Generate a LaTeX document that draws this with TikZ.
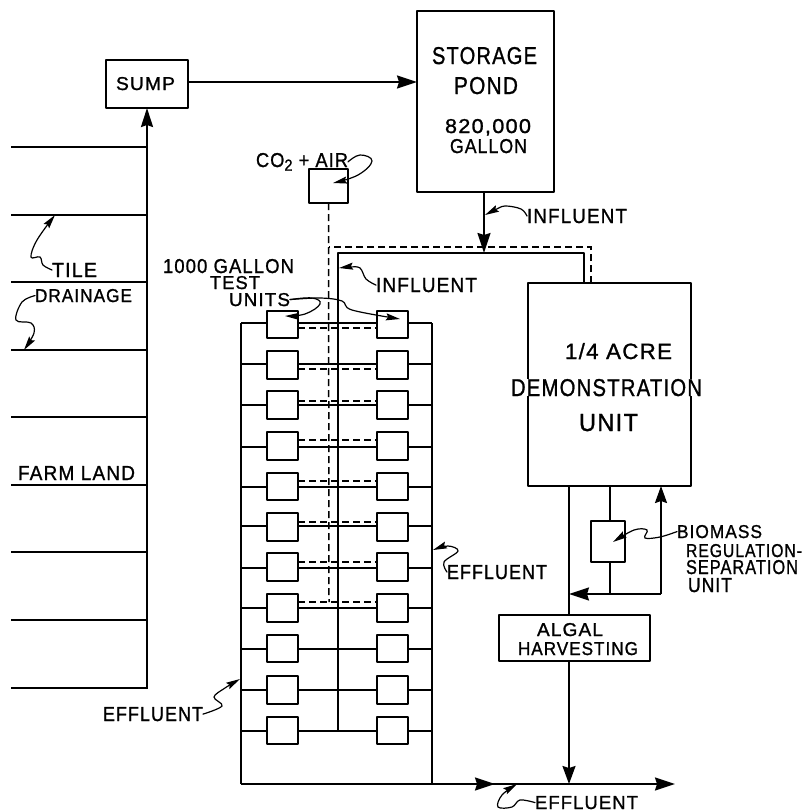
\documentclass[tikz,border=0pt]{standalone}
\usepackage{fontspec}
\usepackage{graphicx}
\setmainfont[LetterSpace=6,FakeBold=1.2]{Liberation Sans}
\usetikzlibrary{arrows.meta,calc}
\tikzset{
  ln/.style={line width=1.9pt,line join=round},
  thinln/.style={line width=1.5pt},
  dsh/.style={line width=1.5pt,dash pattern=on 7pt off 4pt},
  arr/.style={ln,-{Stealth[length=20pt,width=13pt,inset=2pt]}},
  leader/.style={line width=1.2pt,line cap=round,-{Stealth[length=14pt,width=7pt,inset=2pt]}},
  boxn/.style={draw,ln,inner sep=0pt,outer sep=0pt},
  lab/.style={inner sep=0pt,outer sep=0pt,anchor=base west}
}
% box by corners
\newcommand\bx[5]{%
  \pgfmathsetmacro\myw{#4-#2}\pgfmathsetmacro\myh{#5-#3}%
  \pgfmathsetmacro\mymx{(#2+#4)/2}\pgfmathsetmacro\mymy{(#3+#5)/2}%
  \node[boxn,minimum width=\myw pt,minimum height=\myh pt] (#1) at (\mymx,\mymy) {};}
% text fitted to x1,x2, cap top, baseline
\newcommand\tx[7][]{%
  \pgfmathsetmacro\myw{#4-#3}\pgfmathsetmacro\myh{#6-#5}%
  \node[lab,#1] (#2) at (#3,#6) {\resizebox{\myw pt}{\myh pt}{#7}};}
\begin{document}
\begin{tikzpicture}[x=1pt,y=-1pt]
\useasboundingbox (0,0) rectangle (809,811);
% tile lines and trunk
\foreach \y in {147,215,282,350,417,485,552,620,688}
  \draw[thinln] (11,\y) -- (147,\y);
% boxes
\bx{sump}{106}{60}{188}{108}
\bx{pond}{417}{11}{554}{192}
\bx{co}{309}{169}{348}{203}
\bx{demo}{528}{283}{691}{486}
\bx{bio}{591}{521}{625}{562}
\bx{alg}{499}{615}{650}{661}
\coordinate (trunk) at (147,689);
\draw[ln,line width=2.2pt,-{Stealth[length=19pt,width=12pt,inset=2pt]}] (trunk) -- (sump.south);
\draw[arr] ([yshift=2pt]sump.east) -- ([yshift=2pt]sump.east -| pond.west);
% influent network
\coordinate (sc) at (338,253);
\coordinate (sr) at (584,253);
\coordinate (dc) at (329,247);
\coordinate (dr) at (591,247);
\coordinate (send) at (338,731);
\coordinate (dend) at (329,602);
\draw[ln,line width=2.1pt] (send) -- (sc) -- (sr) -- (sr |- demo.north);
\draw[dsh] (dr |- demo.north) -- (dr) -- (dc);
\draw[dsh] (co.south) -- (dend);
\draw[arr,line width=2.1pt] (pond.south -| 484,0) -- (484,253);
% test units
\coordinate (tl) at (241,323);
\coordinate (tr) at (432,323);
\coordinate (bl) at (241,784);
\coordinate (br) at (432,784);
\coordinate (mida) at (495,784);
\coordinate (midb) at (480,784);
\coordinate (enda) at (675,784);
\foreach \i/\t/\b/\s in {1/311/338/323,2/351/379/364,3/391/419/405,4/432/460/447,5/473/500/487,6/513/541/526,7/553/581/568,8/594/622/608,9/635/662/649,10/676/704/690,11/717/744/731}{
  \bx{L\i}{267}{\t}{298}{\b}
  \bx{R\i}{377}{\t}{408}{\b}
  \draw[thinln] (L\i.west |- 0,\s) -- (241,\s);
  \draw[thinln] (R\i.east |- 0,\s) -- (432,\s);
  \draw[ln] (L\i.east |- 0,\s) -- (R\i.west |- 0,\s);
}
\foreach \i/\d in {1/328,2/369,3/401,4/440,5/481,6/522,7/562,8/602}
  \draw[dsh] (L\i.east |- 0,\d) -- (R\i.west |- 0,\d);
\draw[ln] (tl) -- (bl);
\draw[ln] (tr) -- (br);
\draw[arr] (bl) -- (mida);
\draw[arr] (midb) -- (enda);
% demonstration unit outlets
\coordinate (jn) at (569,594);
\coordinate (jr) at (661,594);
\draw[ln] (jn |- demo.south) -- (jn |- alg.north);
\draw[ln] (bio.north -| 610,0) -- (610,486);
\draw[ln] (bio.south -| 610,0) -- (610,594);
\draw[arr] (jr) -- (jn);
\draw[ln,-{Stealth[length=17pt,width=12pt,inset=2pt]}] (jr) -- (jr |- demo.south);
\draw[ln,-{Stealth[length=18pt,width=13pt,inset=2pt]}] (569,661) -- (569,784);
% labels
\tx{lsump}{116}{175}{77}{90}{SUMP}
\tx{lst}{432}{537}{47}{64}{STORAGE}
\tx{lpo}{454}{518}{77}{94}{POND}
\tx{l82}{445}{531}{119}{133}{820,000}
\tx{lga}{450}{527}{139}{153}{GALLON}
\tx{lco}{256}{348}{153}{167}{CO\raisebox{-.35ex}{\footnotesize 2} + AIR}
\tx{linf}{527}{627}{209}{223}{INFLUENT}
\tx{linfb}{376}{477}{278}{292}{INFLUENT}
\tx{lgal}{163}{294}{259}{273}{1000 GALLON}
\tx{lte}{210}{260}{276}{289}{TEST}
\tx{lun}{229}{290}{293}{306}{UNITS}
\tx{lti}{52}{97}{263}{277}{TILE}
\tx{ldr}{35}{132}{289}{302}{DRAINAGE}
\tx{lfa}{18}{135}{466}{480}{FARM LAND}
\tx{lac}{565}{672}{343}{359}{1/4 ACRE}
\tx[fill=white]{lde}{511}{702}{379}{396}{DEMONSTRATION}
\tx{luu}{579}{638}{414}{431}{UNIT}
\tx{lbi}{677}{762}{525}{538}{BIOMASS}
\tx{lre}{686}{802}{544}{557}{REGULATION-}
\tx{lse}{686}{798}{560}{574}{SEPARATION}
\tx{lu2}{688}{732}{578}{592}{UNIT}
\tx{leff}{447}{547}{565}{579}{EFFLUENT}
\tx{lal}{537}{603}{623}{636}{ALGAL}
\tx{lha}{518}{638}{642}{655}{HARVESTING}
\tx{lef2}{103}{203}{707}{721}{EFFLUENT}
\tx{lef3}{535}{638}{796}{809}{EFFLUENT}
% leaders
\coordinate (t1) at (333,183);
\coordinate (t2) at (339,268);
\coordinate (t3) at (285,316);
\coordinate (t4) at (400,319);
\coordinate (t5) at (55,215);
\coordinate (t6) at (24,350);
\coordinate (t7) at (240,679);
\coordinate (t8) at (485,215);
\coordinate (t9) at (613,542);
\coordinate (t10) at (433,550);
\coordinate (t11) at (517,784);
\draw[leader] plot[smooth,tension=.7] coordinates {(lco.east) (360,155) (372,161) (358,175) (t1)};
\draw[leader] plot[smooth,tension=.6] coordinates {(linfb.west) (366,279) (360,268) (350,267) (t2)};
\draw[leader] plot[smooth,tension=.7] coordinates {(lun.east) (312,298) (320,304) (305,314) (t3)};
\draw[leader] plot[smooth,tension=.6] coordinates {(lun.east) (320,298) (342,301) (352,310) (t4)};
\draw[leader] plot[smooth,tension=.6] coordinates {(lti.west) (43,265) (40,257) (31,257) (37,240) (t5)};
\draw[leader] plot[smooth,tension=.6] coordinates {(ldr.west) (22,302) (16,320) (31,323) (34,333) (t6)};
\draw[leader] plot[smooth,tension=.6] coordinates {(lef2.east) (222,706) (214,697) (225,688) (t7)};
\draw[leader] plot[smooth,tension=.6] coordinates {(linf.west) (521,209) (505,206) (495,210) (t8)};
\draw[leader] plot[smooth,tension=.6] coordinates {(lbi.west) (660,537) (645,538) (647,530) (634,530) (t9)};
\draw[leader] plot[smooth,tension=.6] coordinates {(leff.west) (444,562) (458,551) (448,546) (t10)};
\draw[leader] plot[smooth,tension=.6] coordinates {(lef3.west) (520,800) (512,807) (498,807) (502,795) (t11)};
\end{tikzpicture}
\end{document}
